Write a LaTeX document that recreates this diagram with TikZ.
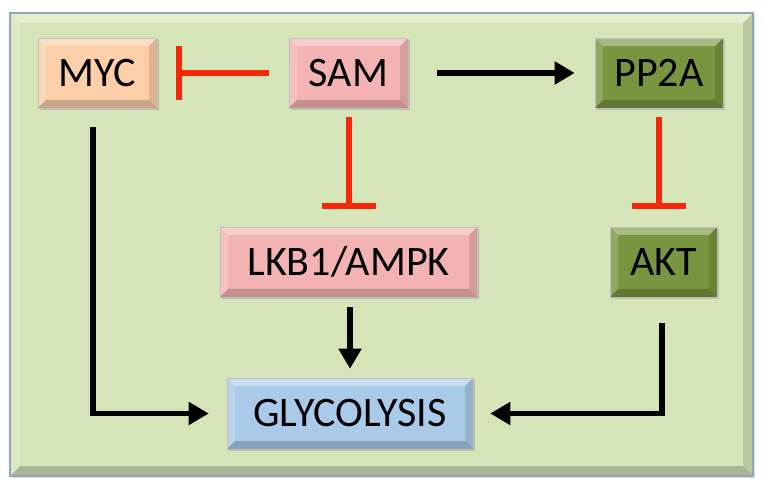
\documentclass[tikz,border=0pt]{standalone}
\usepackage{fontspec}
\setmainfont{Carlito}
\usetikzlibrary{arrows.meta,shadows}
\definecolor{framefill}{HTML}{D6E5B8}
\definecolor{frameline}{HTML}{8EA5BF}
\definecolor{mycc}{HTML}{FCCFA8}
\definecolor{pinkc}{HTML}{F4B3B3}
\definecolor{greenc}{HTML}{78963F}
\definecolor{bluec}{HTML}{A9CAE9}
\definecolor{redc}{HTML}{F5280A}
\tikzset{
  bevel/.style={path picture={
    \fill[white,opacity=0.35] (path picture bounding box.north west) -- (path picture bounding box.north east) -- ([xshift=-#1,yshift=-#1]path picture bounding box.north east) -- ([xshift=#1,yshift=-#1]path picture bounding box.north west) -- cycle;
    \fill[white,opacity=0.18] (path picture bounding box.north west) -- ([xshift=#1,yshift=-#1]path picture bounding box.north west) -- ([xshift=#1,yshift=#1]path picture bounding box.south west) -- (path picture bounding box.south west) -- cycle;
    \fill[black,opacity=0.2] (path picture bounding box.south west) -- (path picture bounding box.south east) -- ([xshift=-#1,yshift=#1]path picture bounding box.south east) -- ([xshift=#1,yshift=#1]path picture bounding box.south west) -- cycle;
    \fill[black,opacity=0.12] (path picture bounding box.north east) -- ([xshift=-#1,yshift=-#1]path picture bounding box.north east) -- ([xshift=-#1,yshift=#1]path picture bounding box.south east) -- (path picture bounding box.south east) -- cycle;
  }},
  gene/.style={rectangle, inner sep=0pt, minimum height=70pt, font=\fontsize{42}{44}\selectfont,
    text=black, draw=black!25, line width=0.6pt, bevel=8pt,
    drop shadow={shadow xshift=1.5pt,shadow yshift=-2pt,opacity=0.35}},
  act/.style={line width=5.5pt, -{Triangle[length=20pt,width=22pt]}},
  inh/.style={line width=6pt, draw=redc, -{Bar[width=54pt,line width=6pt]}},
}
\begin{document}
\begin{tikzpicture}[x=1pt,y=-1pt]
\useasboundingbox (0,0) rectangle (764,489);
% frame
\node[rectangle, inner sep=0pt, minimum width=743pt, minimum height=463pt, fill=framefill,
  draw=frameline, line width=2pt, bevel=10pt,
  drop shadow={shadow xshift=2pt,shadow yshift=-2pt,opacity=0.3}] (frame) at (381.5,244.5) {};
% nodes
\node[gene, fill=mycc, minimum width=119pt] (myc) at (97.5,73) {MYC};
\node[gene, fill=pinkc, minimum width=119pt] (sam) at (348.5,73) {SAM};
\node[gene, fill=greenc, minimum width=128pt] (pp2a) at (659,73) {PP2A};
\node[gene, fill=pinkc, minimum width=257pt] (lkb) at (348.5,262) {LKB1/AMPK};
\node[gene, fill=greenc, minimum width=107pt] (akt) at (663.5,262) {AKT};
\node[gene, fill=bluec, minimum width=246pt, minimum height=71pt] (gly) at (350,413.5) {GLYCOLYSIS};
% connectors
\draw[inh, shorten <=20pt, shorten >=19pt] (sam.west) -- (myc.east);
\draw[inh, shorten <=9pt, shorten >=18pt] (sam.south) -- (lkb.north -| sam.south);
\draw[inh, shorten <=9pt, shorten >=18pt] (pp2a.south) -- (akt.north -| pp2a.south);
\draw[act, shorten <=29pt, shorten >=20pt] (sam.east) -- (pp2a.west);
\draw[act, shorten <=10pt, shorten >=9pt] (lkb.south -| gly.north) -- (gly.north);
\coordinate (mycs) at (93,127);
\coordinate (akts) at (662,323);
\draw[act, shorten >=18pt] (mycs) |- (gly.west);
\draw[act, shorten >=17pt] (akts) |- (gly.east);
\end{tikzpicture}
\end{document}
